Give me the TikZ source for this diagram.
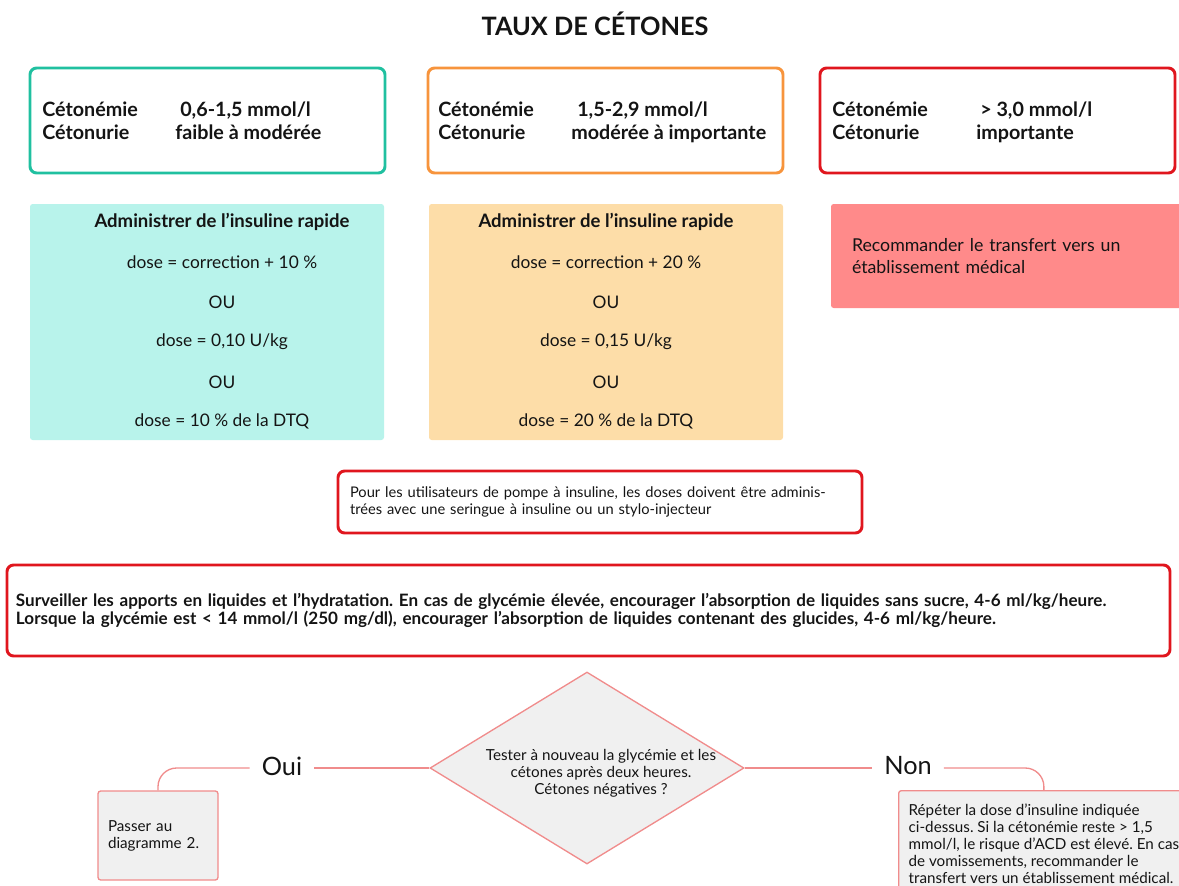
\documentclass[tikz,border=0pt]{standalone}
\usepackage{fontspec}
\setmainfont{Lato}
\usetikzlibrary{shapes.geometric}

\definecolor{tealline}{RGB}{32,192,160}
\definecolor{orangeline}{RGB}{247,148,60}
\definecolor{redline}{RGB}{224,22,30}
\definecolor{tealfill}{RGB}{184,243,235}
\definecolor{orangefill}{RGB}{253,221,168}
\definecolor{salmonfill}{RGB}{255,138,138}
\definecolor{greyfill}{RGB}{240,240,240}
\definecolor{pinkline}{RGB}{240,140,140}
\definecolor{ink}{RGB}{20,20,20}

\def\px{0.75pt}
\frenchspacing

\begin{document}
\begin{tikzpicture}[x=0.75pt,y=-0.75pt,text=ink,
    frame/.style={draw,rounded corners=5pt,line width=2.2pt,inner sep=0pt},
    dosebox/.style={rounded corners=2pt,inner sep=0pt,minimum width=354*\px,minimum height=236*\px},
    greybox/.style={draw=pinkline,fill=greyfill,rounded corners=2pt,line width=1pt,align=left,inner sep=10*\px},
    conn/.style={draw=pinkline,line width=1pt},
    head/.style={font=\fontsize{14.8}{16}\bfseries\selectfont,anchor=mid west,inner sep=0pt},
    dose/.style={font=\fontsize{13}{16}\selectfont},
    small/.style={font=\fontsize{11.4}{12.8}\selectfont},
    answer/.style={font=\fontsize{19}{22}\selectfont,inner sep=9pt}]
  \useasboundingbox (0,0) rectangle (1179,886);

  % title
  \node[font=\fontsize{19}{22}\bfseries\selectfont] (title) at (595,24) {TAUX DE CÉTONES};

  % ketone levels
  \node[frame,draw=tealline,minimum width=355*\px,minimum height=105*\px] (levela) at (207.5,120.5) {};
  \node[frame,draw=orangeline,minimum width=355*\px,minimum height=105*\px] (levelb) at (605.5,120.5) {};
  \node[frame,draw=redline,minimum width=355*\px,minimum height=105*\px] (levelc) at (997.5,120.5) {};

  \node[head] (blooda) at (42,113) {Cétonémie};
  \node[head] (urinea) at (42,136) {Cétonurie};
  \node[head] (bloodav) at (180,113) {0,6-1,5 mmol/l};
  \node[head] (urineav) at (175,136) {faible à modérée};

  \node[head] (bloodb) at (438,113) {Cétonémie};
  \node[head] (urineb) at (438,136) {Cétonurie};
  \node[head] (bloodbv) at (577,113) {1,5-2,9 mmol/l};
  \node[head] (urinebv) at (571,136) {modérée à importante};

  \node[head] (bloodc) at (832,113) {Cétonémie};
  \node[head] (urinec) at (832,136) {Cétonurie};
  \node[head] (bloodcv) at (980,113) {> 3,0 mmol/l};
  \node[head] (urinecv) at (976,136) {importante};

  % insulin doses
  \node[dosebox,fill=tealfill] (dosea) at (207,322) {};
  \node[dosebox,fill=orangefill] (doseb) at (606,322) {};
  \node[font=\fontsize{13.9}{16}\bfseries\selectfont] (doseatitle) at (222,222) {Administrer de l’insuline rapide};
  \node[font=\fontsize{13.9}{16}\bfseries\selectfont] (dosebtitle) at (606,222) {Administrer de l’insuline rapide};
  \foreach \yy/\txt in {262/{dose = correction + 10 \%},302/OU,342/{dose = 0,10 U/kg},382/OU,421/{dose = 10 \% de la DTQ}}
    \node[dose] (dosea\yy) at (222,\yy) {\txt};
  \foreach \yy/\txt in {262/{dose = correction + 20 \%},302/OU,342/{dose = 0,15 U/kg},382/OU,421/{dose = 20 \% de la DTQ}}
    \node[dose] (doseb\yy) at (606,\yy) {\txt};

  \node[rounded corners=2pt,fill=salmonfill,minimum width=356*\px,minimum height=104*\px,
    text width=314*\px,align=left,inner sep=0pt,font=\fontsize{13.3}{16}\selectfont] (transfer) at (1009,256)
    {Recommander le transfert vers un\\établissement médical};

  % pump users
  \node[frame,draw=redline,minimum width=524*\px,minimum height=62*\px,text width=500*\px,align=left,
    font=\fontsize{11}{12.2}\selectfont] (pump) at (600,502)
    {Pour les utilisateurs de pompe à insuline, les doses doivent être adminis-\\trées avec une seringue à insuline ou un stylo-injecteur};

  % fluids
  \node[frame,draw=redline,minimum width=1163*\px,minimum height=91*\px,text width=1145*\px,align=left,
    font=\fontsize{12.8}{13.5}\bfseries\selectfont] (fluids) at (588.5,610.5)
    {Surveiller les apports en liquides et l’hydratation. En cas de glycémie élevée, encourager l’absorption de liquides sans sucre, 4-6 ml/kg/heure.\\
     Lorsque la glycémie est < 14 mmol/l (250 mg/dl), encourager l’absorption de liquides contenant des glucides, 4-6 ml/kg/heure.};

  % retest
  \node[diamond,draw=pinkline,fill=greyfill,line width=1pt,inner sep=0pt,minimum width=314*\px,minimum height=192*\px] (test) at (587,768) {};
  \node[small,align=center] (testtext) at (601,773)
    {Tester à nouveau la glycémie et les\\cétones après deux heures.\\Cétones négatives ?};

  \node[answer] (oui) at (282,766) {Oui};
  \node[answer] (non) at (908,766) {Non};

  \node[greybox,minimum width=120*\px,minimum height=89*\px,text width=100*\px,small] (passer) at (158,835.5)
    {Passer au\\diagramme 2.};
  \node[greybox,minimum width=284*\px,minimum height=106*\px,anchor=north west,
    font=\fontsize{11.4}{12.6}\selectfont] (repeat) at (898,790)
    {Répéter la dose d’insuline indiquée\\ci-dessus. Si la cétonémie reste > 1,5\\mmol/l, le risque d’ACD est élevé. En cas\\de vomissements, recommander le\\transfert vers un établissement médical.};

  \draw[conn] (test.west) -- (test.west -| oui.east);
  \draw[conn,rounded corners=14pt] (test.west -| oui.west) -| (passer.north);
  \draw[conn] (test.east) -- (test.east -| non.west);
  \draw[conn,rounded corners=14pt] (test.east -| non.east) -| (repeat.north);
\end{tikzpicture}
\end{document}
